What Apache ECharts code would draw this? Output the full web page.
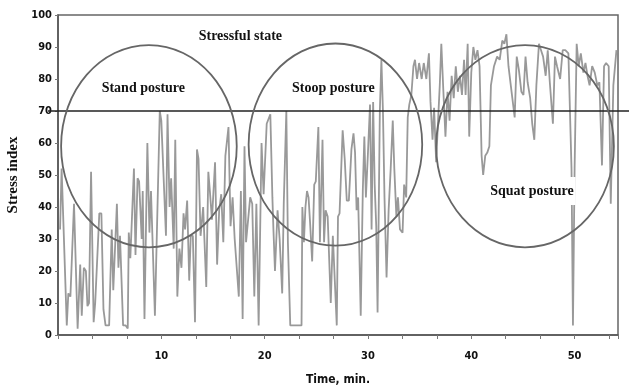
<!DOCTYPE html>
<html>
<head>
<meta charset="utf-8">
<script src="https://cdn.jsdelivr.net/npm/echarts@6/dist/echarts.min.js"></script>
<style>
html,body{margin:0;padding:0;background:#fff}
#chart{width:629px;height:387px}
</style>
</head>
<body>
<div id="chart"></div>
<script>
// stress index readings [time (min), index] in stretches
var stressA = [[0.2,33],[0.35,52],[0.85,3],[1.0,13],[1.2,12],[1.55,41],[1.9,2],[2.15,22],[2.3,6],[2.5,21],[2.7,20],[2.85,9],[3.0,10],[3.2,51],[3.45,4],[3.6,10],[4.0,38],[4.2,38],[4.4,8],[4.6,3],[4.95,3],[5.2,33],[5.35,14],[5.7,41],[5.85,21],[6.0,31],[6.3,3],[6.55,3],[6.75,2],[6.85,32],[7.0,24],[7.35,52],[7.5,25],[7.7,49],[7.85,48],[8.1,30],[8.2,45],[8.37,5],[8.65,60],[8.85,32],[9.0,45],[9.38,6],[9.85,70],[10.0,67]];
var stressB = [[10.45,31],[10.6,69],[10.8,40],[10.95,49],[11.2,27],[11.35,61],[11.55,12],[11.75,27],[11.95,21],[12.15,38],[12.3,33],[12.5,42],[12.7,17],[12.85,31],[13.05,31],[13.26,4],[13.45,58],[13.6,55],[13.8,31],[14.05,40],[14.35,15],[14.55,51],[14.7,45],[14.9,36],[15.2,54],[15.4,22],[15.6,39],[15.8,44],[16.0,29],[16.2,56],[16.5,65],[16.7,34],[16.9,43],[17.1,30],[17.5,12],[17.7,45],[17.87,5],[18.05,59],[18.2,29],[18.4,36],[18.6,43],[18.8,41],[19.0,12],[19.2,41],[19.42,3],[19.7,60],[19.9,44],[20.2,66]];
var stressC = [[20.55,69],[20.75,43],[20.85,33],[21.0,20],[21.25,39],[21.45,30],[21.7,13],[21.85,41],[22.1,70],[22.25,29],[22.48,3],[23.0,3],[23.57,3],[23.65,40],[23.8,29],[23.95,40],[24.1,45],[24.25,43],[24.4,35],[24.6,23],[24.8,47],[24.95,48],[25.2,65],[25.35,29],[25.6,61],[25.75,29],[25.9,39],[26.1,37],[26.4,10],[26.6,31],[26.98,3],[27.1,37],[27.25,38],[27.55,64],[27.75,55],[27.95,42],[28.15,42],[28.4,58],[28.6,63],[28.75,57],[28.9,39],[29.05,43],[29.3,6],[29.5,45],[29.65,62],[29.8,43],[30.0,57],[30.2,72]];
var stressD = [[30.35,33],[30.5,73],[30.65,47],[30.8,34],[30.93,7],[31.15,70],[31.3,86],[31.45,70],[31.6,43],[31.8,18],[32.0,39],[32.2,52],[32.4,67],[32.55,52],[32.75,37],[32.9,43],[33.1,33],[33.35,32],[33.5,47],[33.7,43],[33.85,68],[34.0,72],[34.2,75],[34.4,84],[34.55,86],[34.75,80],[34.95,85],[35.2,80],[35.4,85],[35.65,80],[35.9,88],[36.05,73],[36.25,61],[36.4,71],[36.6,54],[36.8,68],[36.95,78],[37.1,91],[37.3,76],[37.5,62],[37.7,76],[37.9,67],[38.1,81],[38.3,74],[38.5,84],[38.7,76],[38.9,81],[39.1,75],[39.3,86],[39.45,75],[39.65,91],[39.8,62],[40.0,82]];
var stressE = [[40.2,90],[40.4,86],[40.6,89],[40.8,84],[41.0,56],[41.15,50],[41.35,56],[41.55,57],[41.75,59],[41.9,78],[42.2,84],[42.5,87],[42.75,86],[43.0,92],[43.2,91],[43.4,94],[43.6,84],[43.9,76],[44.2,68],[44.4,87],[44.6,83],[44.85,76],[45.05,75],[45.25,87],[45.45,79],[45.7,74],[45.9,66],[46.1,61],[46.3,78],[46.55,91],[46.75,89],[46.95,87],[47.2,81],[47.4,89],[47.6,79],[47.9,66],[48.1,87],[48.3,84],[48.6,80],[48.85,89],[49.1,89],[49.4,88],[49.7,52],[49.84,3],[50.0,52],[50.2,91],[50.4,84],[50.6,88],[50.85,82],[51.05,85],[51.25,81],[51.45,78],[51.7,84],[51.95,82],[52.2,78],[52.4,79],[52.65,53],[52.85,84],[53.05,85],[53.3,84],[53.5,41],[53.75,78],[54.05,89]];

var stressLimit = 70;
var timeLabels = [10, 20, 30, 40, 50];

var sansFont = "'Liberation Sans Narrow','DejaVu Sans Condensed',Arial,sans-serif";
var serifFont = "'Liberation Serif','Times New Roman',serif";

var chart = echarts.init(document.getElementById('chart'));

chart.setOption({
    animation: false,
    backgroundColor: '#fff',
    grid: {
        left: 58,
        right: 11,
        top: 15,
        bottom: 52,
        outerBoundsMode: 'none',
        show: true,
        borderColor: '#666',
        borderWidth: 1.5,
        backgroundColor: 'transparent'
    },
    xAxis: {
        type: 'value',
        min: 0,
        max: 54.2,
        interval: 10 / 3,
        name: 'Time, min.',
        nameLocation: 'middle',
        nameGap: 39,
        nameTextStyle: {fontFamily: sansFont, fontWeight: 'bold', fontSize: 12, color: '#111'},
        axisLine: {lineStyle: {color: '#555', width: 1.5}},
        axisTick: {show: true, length: 4, lineStyle: {color: '#777'}},
        axisLabel: {
            margin: 16,
            fontFamily: sansFont, fontWeight: 'bold', fontSize: 11, color: '#111',
            formatter: function(v){
                for(var i = 0; i < timeLabels.length; i++){
                    if(Math.abs(v - timeLabels[i]) < 0.05) return String(timeLabels[i]);
                }
                return '';
            }
        },
        splitLine: {show: false}
    },
    yAxis: {
        type: 'value',
        min: 0,
        max: 100,
        interval: 10,
        name: 'Stress index',
        nameLocation: 'middle',
        nameRotate: 90,
        nameGap: 35,
        nameTextStyle: {fontFamily: serifFont, fontWeight: 'bold', fontSize: 15, color: '#111'},
        axisLine: {show: true, lineStyle: {color: '#555', width: 1.5}},
        axisTick: {show: true, length: 3, lineStyle: {color: '#777'}},
        axisLabel: {margin: 6, fontFamily: sansFont, fontWeight: 'bold', fontSize: 11, color: '#111'},
        splitLine: {show: false}
    },
    series: [{
        type: 'line',
        data: [].concat(stressA, stressB, stressC, stressD, stressE),
        showSymbol: false,
        symbol: 'none',
        lineStyle: {color: '#999', width: 1.8},
        z: 2
    }]
});

// posture ellipses and labels, placed in data units
function px(t, v){ return chart.convertToPixel({gridIndex: 0}, [t, v]); }

var ellipses = [[8.8, 59, 8.5, 31.6], [26.85, 59.5, 8.4, 31.6], [45.2, 59, 8.6, 31.6]];
var labels = [
    ['Stressful state', 17.65, 93.4, false],
    ['Stand posture', 8.26, 77.2, false],
    ['Stoop posture', 26.65, 77.2, true],
    ['Squat posture', 45.87, 45, true]
];

var graphics = [];
var gridLeft = px(0, 0)[0];
var yLimit = px(0, stressLimit)[1];
graphics.push({
    type: 'line', z: 10,
    shape: {x1: gridLeft - 10, y1: yLimit, x2: 629, y2: yLimit},
    style: {stroke: '#222', lineWidth: 1.5}
});
ellipses.forEach(function(e){
    var c = px(e[0], e[1]);
    var edge = px(e[0] + e[2], e[1] + e[3]);
    graphics.push({
        type: 'ellipse', z: 11,
        shape: {cx: c[0], cy: c[1], rx: edge[0] - c[0], ry: c[1] - edge[1]},
        style: {fill: null, stroke: '#666', lineWidth: 1.8}
    });
});
labels.forEach(function(l){
    var p = px(l[1], l[2]);
    graphics.push({
        type: 'text', z: 12,
        x: p[0], y: p[1],
        style: {
            text: l[0],
            font: 'bold 14px ' + serifFont,
            fill: '#111',
            align: 'center',
            verticalAlign: 'middle',
            backgroundColor: l[3] ? '#fff' : null,
            padding: l[3] ? [7, 2] : 0
        }
    });
});
chart.setOption({graphic: graphics});
</script>
</body>
</html>
